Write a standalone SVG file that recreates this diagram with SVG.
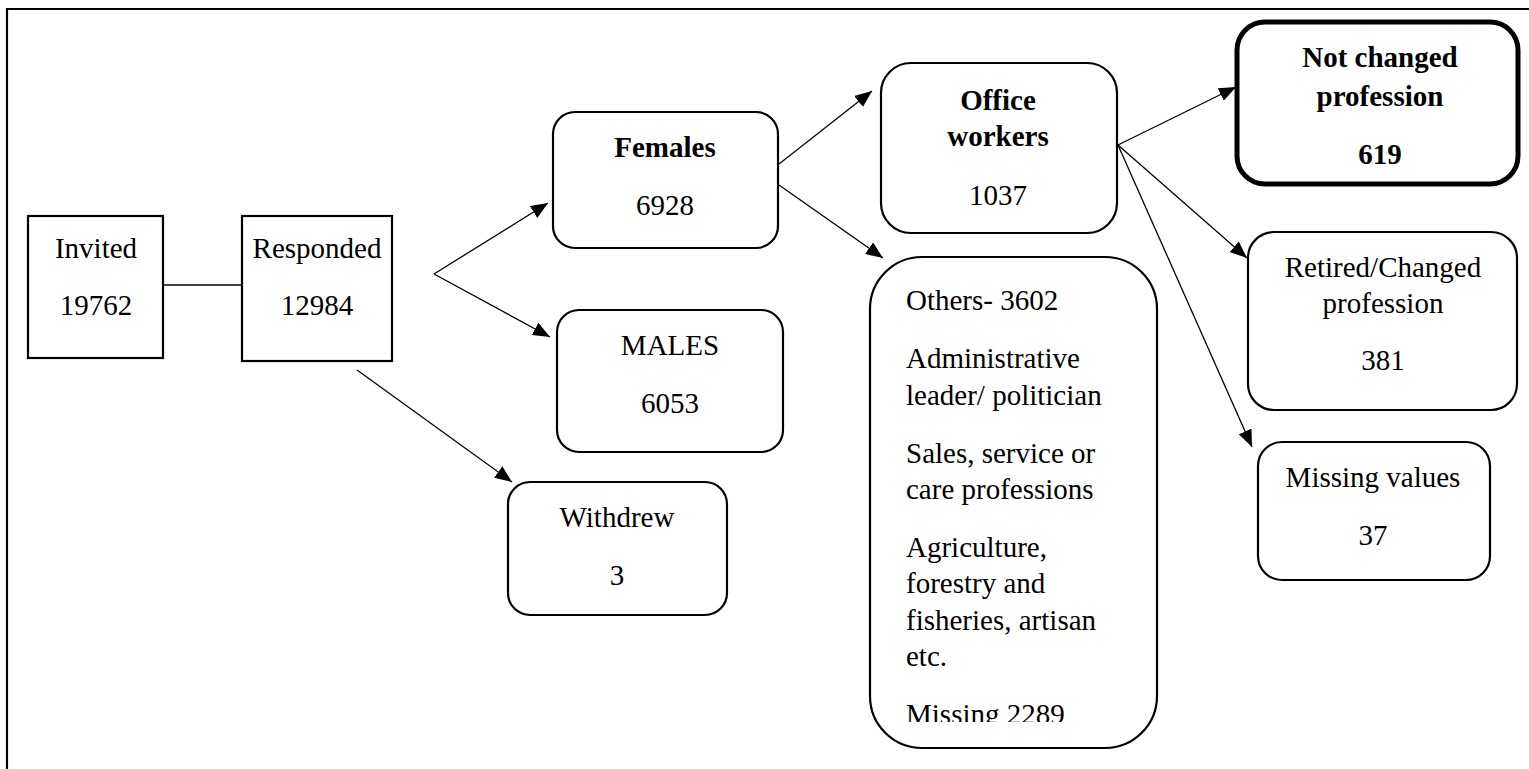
<svg xmlns="http://www.w3.org/2000/svg" width="1529" height="769" viewBox="0 0 1529 769">
<style>
.t{font-family:"Liberation Serif","Times New Roman",serif;font-size:29px;fill:#000;text-anchor:middle}
.l{text-anchor:start}
.b{font-weight:bold}
.box{fill:#fff;stroke:#000;stroke-width:2.2}
.thick{fill:#fff;stroke:#000;stroke-width:5}
.c{stroke:#000;stroke-width:1.3;fill:none}
</style>
<defs>
<marker id="ah" markerUnits="userSpaceOnUse" markerWidth="18" markerHeight="14" refX="17" refY="7" orient="auto">
<path d="M0,0 L17,7 L0,14 z" fill="#000"/>
</marker>
<clipPath id="clipMiss"><rect x="860" y="250" width="300" height="472"/></clipPath>
</defs>
<rect width="1529" height="769" fill="#fff"/>
<g id="frame">
<path d="M7,769 L7,9 L1529,9" fill="none" stroke="#000" stroke-width="2.2"/>
</g>
<g id="connectors">
<line class="c" x1="163" y1="285" x2="242" y2="285"/>
<line class="c" x1="434" y1="274" x2="548" y2="203" marker-end="url(#ah)"/>
<line class="c" x1="434" y1="274" x2="550" y2="337" marker-end="url(#ah)"/>
<line class="c" x1="357" y1="370" x2="512" y2="482" marker-end="url(#ah)"/>
<line class="c" x1="779" y1="164" x2="872" y2="91" marker-end="url(#ah)"/>
<line class="c" x1="779" y1="185" x2="883" y2="258" marker-end="url(#ah)"/>
<line class="c" x1="1118" y1="145" x2="1236" y2="87" marker-end="url(#ah)"/>
<line class="c" x1="1118" y1="145" x2="1247" y2="258" marker-end="url(#ah)"/>
<line class="c" x1="1118" y1="145" x2="1252" y2="447" marker-end="url(#ah)"/>
</g>
<g id="invited">
<rect class="box" x="28" y="216" width="135" height="142"/>
<text class="t" x="96" y="258">Invited</text>
<text class="t" x="96" y="315">19762</text>
</g>
<g id="responded">
<rect class="box" x="242" y="216" width="150" height="145"/>
<text class="t" x="317" y="258">Responded</text>
<text class="t" x="317" y="315">12984</text>
</g>
<g id="females">
<rect class="box" x="553" y="112" width="225" height="136" rx="22"/>
<text class="t b" x="665" y="157">Females</text>
<text class="t" x="665" y="215">6928</text>
</g>
<g id="males">
<rect class="box" x="557" y="310" width="226" height="142" rx="22"/>
<text class="t" x="670" y="355">MALES</text>
<text class="t" x="670" y="413">6053</text>
</g>
<g id="withdrew">
<rect class="box" x="508" y="482" width="219" height="133" rx="22"/>
<text class="t" x="617" y="527">Withdrew</text>
<text class="t" x="617" y="585">3</text>
</g>
<g id="office">
<rect class="box" x="881" y="63" width="236" height="170" rx="30"/>
<text class="t b" x="998" y="110">Office</text>
<text class="t b" x="998" y="146">workers</text>
<text class="t" x="998" y="205">1037</text>
</g>
<g id="others">
<rect class="box" x="870" y="257" width="287" height="491" rx="52"/>
<text class="t l" x="906" y="310">Others- 3602</text>
<text class="t l" x="906" y="368">Administrative</text>
<text class="t l" x="906" y="405">leader/ politician</text>
<text class="t l" x="906" y="463">Sales, service or</text>
<text class="t l" x="906" y="499">care professions</text>
<text class="t l" x="906" y="557">Agriculture,</text>
<text class="t l" x="906" y="593">forestry and</text>
<text class="t l" x="906" y="630">fisheries, artisan</text>
<text class="t l" x="906" y="666">etc.</text>
<text class="t l" x="906" y="724" clip-path="url(#clipMiss)">Missing 2289</text>
</g>
<g id="notchanged">
<rect class="thick" x="1237" y="22" width="281" height="162" rx="28"/>
<text class="t b" x="1380" y="67">Not changed</text>
<text class="t b" x="1380" y="106">profession</text>
<text class="t b" x="1380" y="164">619</text>
</g>
<g id="retired">
<rect class="box" x="1248" y="232" width="269" height="178" rx="26"/>
<text class="t" x="1383" y="277">Retired/Changed</text>
<text class="t" x="1383" y="313">profession</text>
<text class="t" x="1383" y="370">381</text>
</g>
<g id="missingvalues">
<rect class="box" x="1258" y="442" width="232" height="138" rx="24"/>
<text class="t" x="1373" y="487">Missing values</text>
<text class="t" x="1373" y="545">37</text>
</g>
</svg>
